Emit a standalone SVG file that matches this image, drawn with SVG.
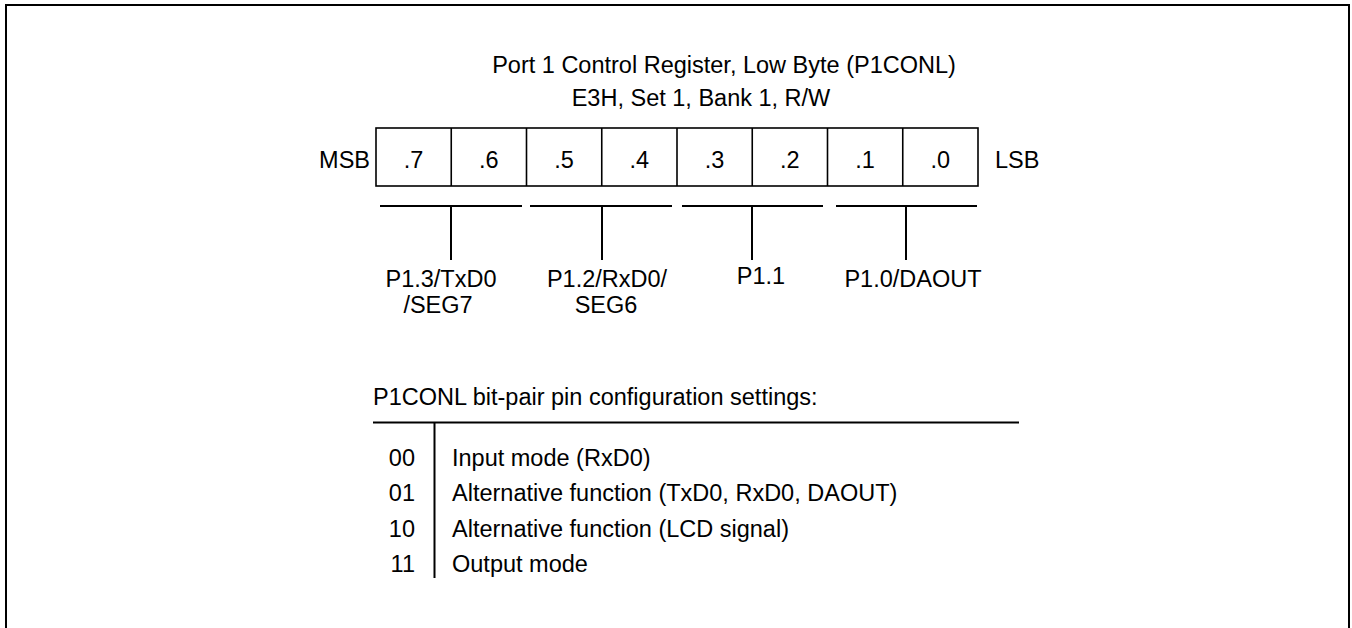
<svg xmlns="http://www.w3.org/2000/svg" width="1352" height="628" viewBox="0 0 1352 628">
<style>
text{font-family:"Liberation Sans",Arial,sans-serif;font-size:23.5px;fill:#000}
.m{text-anchor:middle}
.e{text-anchor:end}
.ln{stroke:#000;stroke-width:2;fill:none}
.bx{stroke:#000;stroke-width:1.6;fill:#fff}
</style>
<rect width="1352" height="628" fill="#fff"/>
<path class="ln" d="M6,628 V5 H1349 V628"/>
<g id="title">
<text class="m" x="724" y="73">Port 1 Control Register, Low Byte (P1CONL)</text>
<text class="m" x="701" y="106">E3H, Set 1, Bank 1, R/W</text>
</g>
<g id="register">
<text class="e" x="370" y="168">MSB</text>
<rect class="bx" x="376" y="128" width="602" height="58"/>
<path class="bx" d="M451.25,128V186M526.5,128V186M601.75,128V186M677,128V186M752.25,128V186M827.5,128V186M902.75,128V186"/>
<text class="m" x="413.6" y="168">.7</text>
<text class="m" x="488.9" y="168">.6</text>
<text class="m" x="564.1" y="168">.5</text>
<text class="m" x="639.4" y="168">.4</text>
<text class="m" x="714.6" y="168">.3</text>
<text class="m" x="789.9" y="168">.2</text>
<text class="m" x="865.1" y="168">.1</text>
<text class="m" x="940.4" y="168">.0</text>
<text x="995" y="168">LSB</text>
</g>
<g id="connectors">
<path class="ln" d="M380,206H522M451,206V260"/>
<path class="ln" d="M530,206H672M602,206V260"/>
<path class="ln" d="M682,206H823M752,206V260"/>
<path class="ln" d="M836,206H977M906,206V260"/>
</g>
<g id="label-p13">
<text class="m" x="441" y="287">P1.3/TxD0</text>
<text class="m" x="438" y="313">/SEG7</text>
</g>
<g id="label-p12">
<text class="m" x="607" y="287">P1.2/RxD0/</text>
<text class="m" x="606" y="313">SEG6</text>
</g>
<g id="label-p11">
<text class="m" x="761" y="284">P1.1</text>
</g>
<g id="label-p10">
<text class="m" x="913" y="287">P1.0/DAOUT</text>
</g>
<g id="settings">
<text x="373" y="405">P1CONL bit-pair pin configuration settings:</text>
<path class="ln" d="M373,422.5H1019M434.5,423V578"/>
<text class="e" x="415" y="466">00</text>
<text class="e" x="415" y="501">01</text>
<text class="e" x="415" y="537">10</text>
<text class="e" x="415" y="572">11</text>
<text x="452" y="466">Input mode (RxD0)</text>
<text x="452" y="501">Alternative function (TxD0, RxD0, DAOUT)</text>
<text x="452" y="537">Alternative function (LCD signal)</text>
<text x="452" y="572">Output mode</text>
</g>
</svg>
